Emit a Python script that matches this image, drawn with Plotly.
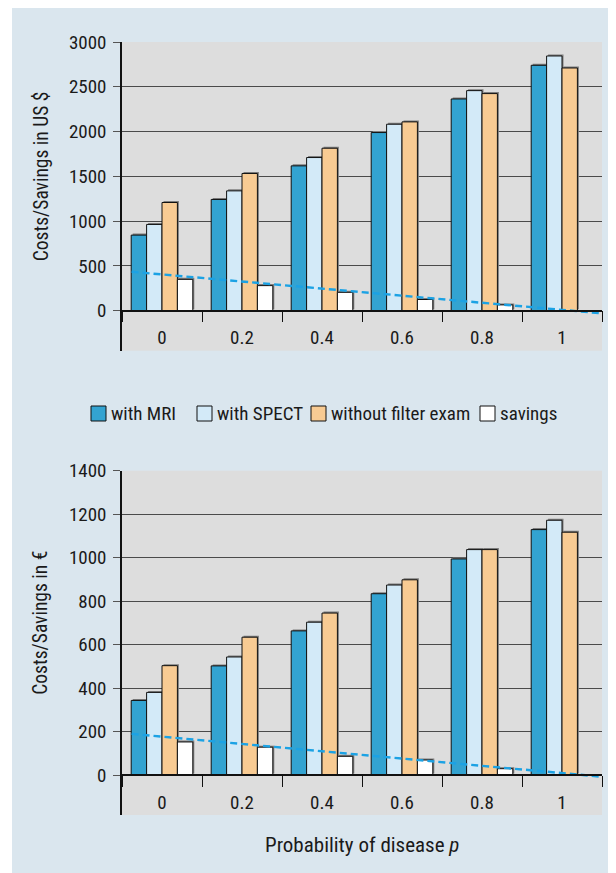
import plotly.graph_objects as go

categories = ["0", "0.2", "0.4", "0.6", "0.8", "1"]

usd_mri = [844, 1242, 1617, 1989, 2364, 2740]
usd_spect = [963, 1338, 1710, 2082, 2457, 2844]
usd_nofilter = [1208, 1532, 1814, 2108, 2424, 2710]
usd_savings = [350, 280, 205, 125, 65, None]
usd_trend_x = [-0.38, 5.5]
usd_trend_y = [435, -30]
usd_ticks = [0, 500, 1000, 1500, 2000, 2500, 3000]

eur_mri = [343, 502, 663, 834, 994, 1129]
eur_spect = [380, 543, 703, 874, 1037, 1172]
eur_nofilter = [503, 634, 745, 898, 1037, 1117]
eur_savings = [152, 128, 86, 69, 29, None]
eur_trend_x = [-0.38, 5.5]
eur_trend_y = [189, -8]
eur_ticks = [0, 200, 400, 600, 800, 1000, 1200, 1400]

series_names = ["with MRI", "with SPECT", "without filter exam", "savings"]
colors = ["#33a3d1", "#d3eaf8", "#f8cb93", "#ffffff"]

# the page adds an 8px body margin; measurements below are in screenshot pixels
OFF = 8
W, H = 616 - OFF, 873 - OFF
ML, MR = 122 - OFF, 14
MT = 42 - OFF
MB = 873 - 815
PH = H - MT - MB
PW = W - ML - MR


def py(sy):
    return (H - MB - (sy - OFF)) / PH


def pxx(sx):
    return ((sx - OFF) - ML) / PW


FONT = "Roboto Condensed, DejaVu Sans Condensed, sans-serif"
TXT = "#1a1a1a"

top_top, top_zero, top_bot = 42.0, 310.7, 350.7
bot_top, bot_zero, bot_bot = 470.7, 775.0, 815.0

usd_per_px = 3000 / (top_zero - top_top)
eur_per_px = 1400 / (bot_zero - bot_top)
usd_min = -(top_bot - top_zero) * usd_per_px
eur_min = -(bot_bot - bot_zero) * eur_per_px

# bar geometry (category units)
GROUP = 0.77
BW = GROUP / 4
CAT_PX = PW / 6
SH_DX = 1.5 / CAT_PX          # shadow offset right (1.5 px)
SH_PX = 1.5                   # shadow offset up (px)
SHADOW = "#7d7d7d"

fig = go.Figure()


def add_panel(series, xa, ya, per_px, tx, ty, xa_line):
    for i, vals in enumerate(series):
        fig.add_trace(go.Bar(x=categories, y=vals, width=BW, offset=-GROUP / 2 + i * BW + SH_DX,
                             base=SH_PX * per_px, marker_color=SHADOW, marker_line_width=0,
                             xaxis=xa, yaxis=ya, showlegend=False, hoverinfo="skip"))
    for i, (name, col, vals) in enumerate(zip(series_names, colors, series)):
        fig.add_trace(go.Bar(x=categories, y=vals, name=name, width=BW,
                             offset=-GROUP / 2 + i * BW, marker_color=col,
                             marker_line=dict(color="#111111", width=1),
                             xaxis=xa, yaxis=ya, showlegend=False))
    fig.add_trace(go.Scatter(x=tx, y=ty, mode="lines",
                             line=dict(color="#1ca2e4", width=2.4, dash="7px,4px"),
                             xaxis=xa_line, yaxis=ya, showlegend=False))


add_panel([usd_mri, usd_spect, usd_nofilter, usd_savings], "x", "y", usd_per_px,
          usd_trend_x, usd_trend_y, "x2")
add_panel([eur_mri, eur_spect, eur_nofilter, eur_savings], "x3", "y2", eur_per_px,
          eur_trend_x, eur_trend_y, "x4")

xax = dict(type="category", tickson="boundaries", ticks="outside", ticklen=11,
           tickcolor="#111111", tickwidth=1, showline=True, linecolor="#111111",
           linewidth=1.5, showgrid=False, anchor="free",
           tickfont=dict(family=FONT, size=19, color=TXT),
           ticklabelstandoff=10, range=[-0.5, 5.5])
yax = dict(showline=True, linecolor="#111111", linewidth=1.5, ticks="outside",
           ticklen=7, tickcolor="#555555", showgrid=True, gridcolor="#4a4a4a",
           gridwidth=1, zeroline=False, ticklabelstandoff=3,
           tickfont=dict(family=FONT, size=19, color=TXT))

shapes = [
    dict(type="rect", xref="paper", yref="paper", x0=pxx(0), x1=pxx(12),
         y0=py(880), y1=py(0), fillcolor="white", line_width=0, layer="above"),
]
annotations = [
    dict(text="Costs/Savings in US $", textangle=-90, xref="paper", yref="paper",
         x=pxx(41), y=py((top_top + top_zero) / 2), showarrow=False,
         xanchor="center", yanchor="middle",
         font=dict(family=FONT, size=19.5, color=TXT)),
    dict(text="Costs/Savings in €", textangle=-90, xref="paper", yref="paper",
         x=pxx(41), y=py((bot_top + bot_zero) / 2), showarrow=False,
         xanchor="center", yanchor="middle",
         font=dict(family=FONT, size=19.5, color=TXT)),
    dict(text="Probability of disease <i>p</i>", xref="paper", yref="paper",
         x=pxx(362), y=py(845), showarrow=False, xanchor="center", yanchor="middle",
         font=dict(family=FONT, size=21, color=TXT)),
]

leg_swatch_x = [91, 197, 311, 480]
leg_y0, leg_y1 = 406, 421
for name, col, sx in zip(series_names, colors, leg_swatch_x):
    shapes.append(dict(type="rect", xref="paper", yref="paper",
                       x0=pxx(sx), x1=pxx(sx + 15), y0=py(leg_y1), y1=py(leg_y0),
                       fillcolor=col, line=dict(color="#111111", width=1), layer="above"))
    annotations.append(dict(text=name, xref="paper", yref="paper", x=pxx(sx + 18),
                            y=py((leg_y0 + leg_y1) / 2), xanchor="left", yanchor="middle",
                            showarrow=False, font=dict(family=FONT, size=19, color=TXT)))

fig.update_layout(
    width=W, height=H,
    margin=dict(l=ML, r=MR, t=MT, b=MB, pad=0),
    paper_bgcolor="#dae6ee",
    plot_bgcolor="#dddddd",
    barmode="overlay",
    showlegend=False,
    xaxis=dict(**xax, domain=[0, 1], position=py(top_zero)),
    xaxis2=dict(overlaying="x", range=[-0.5, 5.5], visible=False, anchor="y"),
    yaxis=dict(**yax, domain=[py(top_bot), py(top_top)], anchor="x",
               range=[usd_min, 3000], tickvals=usd_ticks),
    xaxis3=dict(**xax, domain=[0, 1], position=py(bot_zero)),
    xaxis4=dict(overlaying="x3", range=[-0.5, 5.5], visible=False, anchor="y2"),
    yaxis2=dict(**yax, domain=[py(bot_bot), py(bot_top)], anchor="x3",
                range=[eur_min, 1400], tickvals=eur_ticks),
    shapes=shapes,
    annotations=annotations,
)

fig.write_html("out.html")
